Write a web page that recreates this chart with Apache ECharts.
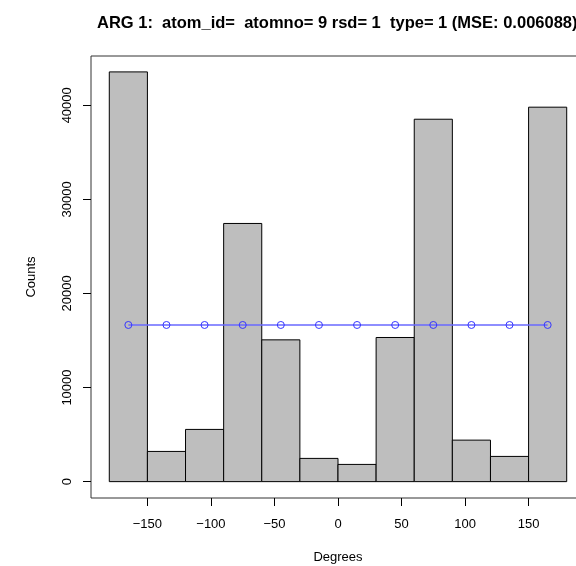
<!DOCTYPE html>
<html>
<head>
<meta charset="utf-8">
<script src="https://cdn.jsdelivr.net/npm/echarts@6/dist/echarts.min.js"></script>
<style>
  html, body { margin: 0; padding: 0; background: #fff; }
  #chart { width: 576px; height: 566px; }
</style>
</head>
<body>
<div id="chart"></div>
<script>
// histogram bins (degrees) and counts
const binStarts = [-180, -150, -120, -90, -60, -30, 0, 30, 60, 90, 120, 150];
const binEnds = [-150, -120, -90, -60, -30, 0, 30, 60, 90, 120, 150, 180];
const counts = [43550, 3210, 5550, 27440, 15070, 2470, 1830, 15320, 38520, 4410, 2680, 39800];

// fitted line (bin midpoints)
const mids = [-165, -135, -105, -75, -45, -15, 15, 45, 75, 105, 135, 165];
const fitted = [16650, 16650, 16650, 16650, 16650, 16650, 16650, 16650, 16650, 16650, 16650, 16650];

const xTicks = [-150, -100, -50, 0, 50, 100, 150];
const yTicks = [0, 10000, 20000, 30000, 40000];

const FONT = 'Liberation Sans, Helvetica, Arial, sans-serif';

const chart = echarts.init(document.getElementById('chart'));

const histData = binStarts.map((s, i) => [s, binEnds[i], counts[i]]);

chart.setOption({
  animation: false,
  backgroundColor: '#fff',
  title: {
    text: 'ARG 1:  atom_id=  atomno= 9 rsd= 1  type= 1 (MSE: 0.006088)',
    left: 97,
    top: 15,
    padding: 0,
    textStyle: { fontFamily: FONT, fontSize: 16.5, fontWeight: 'bold', color: '#000' },
  },
  grid: {
    left: 91,
    top: 56,
    width: 494,
    bottom: 68,
    show: true,
    borderColor: '#333',
    borderWidth: 1,
    outerBoundsMode: 'none',
  },
  xAxis: {
    type: 'value',
    min: -194.4,
    max: 194.4,
    name: 'Degrees',
    nameLocation: 'middle',
    nameGap: 53,
    nameTextStyle: { fontFamily: FONT, fontSize: 13, color: '#000' },
    axisLine: { show: false, onZero: false },
    splitLine: { show: false },
    axisTick: {
      show: true,
      inside: false,
      length: 8,
      customValues: xTicks,
      lineStyle: { color: '#000', width: 1 },
    },
    axisLabel: {
      customValues: xTicks,
      margin: 20,
      fontFamily: FONT,
      fontSize: 13,
      color: '#000',
      formatter: (v) => String(v).replace('-', '\u2212'),
    },
  },
  yAxis: {
    type: 'value',
    min: -1740,
    max: 45240,
    name: 'Counts',
    nameLocation: 'middle',
    nameGap: 53,
    nameTextStyle: { fontFamily: FONT, fontSize: 13, color: '#000' },
    axisLine: { show: false, onZero: false },
    splitLine: { show: false },
    axisTick: {
      show: true,
      inside: false,
      length: 8,
      customValues: yTicks,
      lineStyle: { color: '#000', width: 1 },
    },
    axisLabel: {
      customValues: yTicks,
      rotate: 90,
      margin: 17,
      fontFamily: FONT,
      fontSize: 13,
      color: '#000',
      formatter: (v) => String(v),
    },
  },
  series: [
    {
      type: 'custom',
      data: histData,
      encode: { x: [0, 1], y: 2 },
      renderItem: function (params, api) {
        const p0 = api.coord([api.value(0), 0]);
        const p1 = api.coord([api.value(1), api.value(2)]);
        return {
          type: 'rect',
          shape: { x: p0[0], y: p1[1], width: p1[0] - p0[0], height: p0[1] - p1[1] },
          style: { fill: '#bebebe', stroke: '#000', lineWidth: 1 },
        };
      },
      z: 1,
    },
    {
      type: 'line',
      data: mids.map((m, i) => [m, fitted[i]]),
      symbol: 'circle',
      symbolSize: 7,
      lineStyle: { color: '#6a6aff', width: 1.3 },
      itemStyle: { color: 'rgba(0,0,0,0)', borderColor: '#3535ff', borderWidth: 1 },
      z: 3,
    },
  ],
});
</script>
</body>
</html>
